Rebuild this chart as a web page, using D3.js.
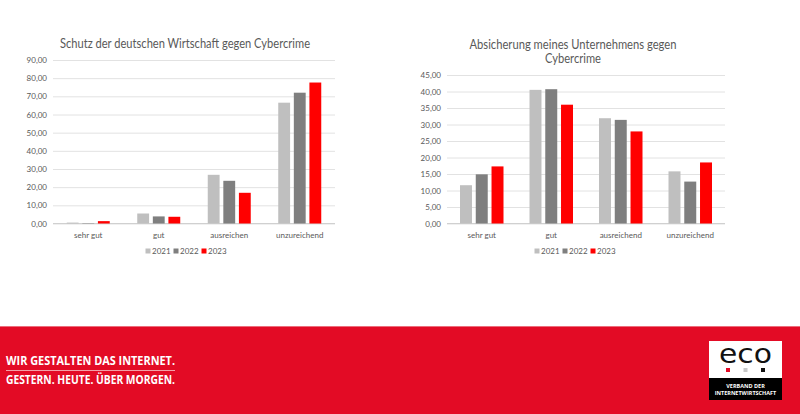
<!DOCTYPE html>
<html><head><meta charset="utf-8">
<script src="https://cdn.jsdelivr.net/npm/d3@7"></script>
<style>html,body{margin:0;padding:0;background:#fff;}svg{display:block;}</style>
</head><body>
<svg id="c" width="800" height="414"></svg>
<script>
const categoriesLeft = ["sehr gut", "gut", "ausreichen", "unzureichend"];
const categoriesRight = ["sehr gut", "gut", "ausreichend", "unzureichend"];
const years = ["2021", "2022", "2023"];
const leftValues2021 = [0.5, 5.5, 26.8, 66.5];
const leftValues2022 = [0.2, 3.9, 23.5, 72.0];
const leftValues2023 = [1.3, 3.7, 16.9, 77.6];
const rightValues2021 = [11.6, 40.5, 31.9, 15.8];
const rightValues2022 = [14.9, 40.7, 31.4, 12.7];
const rightValues2023 = [17.3, 36.0, 27.9, 18.5];
const leftTicks = [0,10,20,30,40,50,60,70,80,90];
const rightTicks = [0,5,10,15,20,25,30,35,40,45];
const leftTitle = ["Schutz der deutschen Wirtschaft gegen Cybercrime"];
const rightTitle = ["Absicherung meines Unternehmens gegen", "Cybercrime"];
const footerLines = ["WIR GESTALTEN DAS INTERNET.", "GESTERN. HEUTE. ÜBER MORGEN."];
const logoLines = ["VERBAND DER", "INTERNETWIRTSCHAFT"];

const colors = {"2021":"#bfbfbf","2022":"#7f7f7f","2023":"#ff0000"};
const svg = d3.select("#c");
const font = "Lato, 'Open Sans', sans-serif";
const fmt = v => d3.format(".2f")(v).replace(".", ",");

function chart(cfg){
  const g = svg.append("g");
  const x = d3.scaleBand().domain(cfg.cats).range([cfg.x0, cfg.x1]).paddingInner(0).paddingOuter(0);
  const y = d3.scaleLinear().domain([0, cfg.max]).range([cfg.y0, cfg.y1]);
  const xs = d3.scaleBand().domain(years).range([0, cfg.groupW]).paddingInner(0.24);
  const ya = d3.axisLeft(y).tickValues(cfg.ticks).tickSize(-(cfg.x1-cfg.x0)).tickFormat(fmt).tickPadding(6);
  const ag = g.append("g").attr("transform",`translate(${cfg.x0},0)`).call(ya);
  ag.select(".domain").remove();
  ag.selectAll(".tick line").attr("stroke","#e2e2e2").attr("stroke-width",1);
  ag.selectAll(".tick text").attr("fill","#595959").style("font-family",font).style("font-size","8px");
  g.append("line").attr("x1",cfg.x0).attr("x2",cfg.x1).attr("y1",y(0)).attr("y2",y(0)).attr("stroke","#d0d0d0");
  const series = years.map((yr,i)=>({yr, vals: cfg.vals[i]}));
  series.forEach(s=>{
    g.selectAll(null).data(s.vals).enter().append("rect")
      .attr("x",(d,i)=> x(cfg.cats[i]) + (x.bandwidth()-cfg.groupW)/2 + xs(s.yr))
      .attr("width", xs.bandwidth())
      .attr("y", d=>y(d)).attr("height", d=>y(0)-y(d))
      .attr("fill", colors[s.yr]);
  });
  g.selectAll(null).data(cfg.cats).enter().append("text")
    .attr("x", d=>x(d)+x.bandwidth()/2).attr("y", cfg.y0+14)
    .attr("text-anchor","middle").attr("fill","#595959")
    .style("font-family",font).style("font-size","8px").text(d=>d);
  g.selectAll(null).data(cfg.title).enter().append("text")
    .attr("x", cfg.tx).attr("y",(d,i)=>cfg.ty + i*14.5)
    .attr("text-anchor","middle").attr("fill","#595959")
    .attr("textLength",(d,i)=>cfg.tw[i]).attr("lengthAdjust","spacingAndGlyphs")
    .style("font-family",font).style("font-size","13px").text(d=>d);
  const lg = g.append("g");
  years.forEach((yr,i)=>{
    const lx = cfg.lx + i*cfg.lstep;
    lg.append("rect").attr("x",lx-2.5).attr("y",cfg.ly-2.5).attr("width",5).attr("height",5).attr("fill",colors[yr]);
    lg.append("text").attr("x",lx+4).attr("y",cfg.ly+3).attr("fill","#595959")
      .style("font-family",font).style("font-size","8px").text(yr);
  });
}

chart({cats:categoriesLeft, vals:[leftValues2021,leftValues2022,leftValues2023], max:90, ticks:leftTicks,
  x0:53, x1:335, y0:223.5, y1:60, groupW:43, title:leftTitle, tw:[250], tx:185, ty:48,
  lx:148, lstep:28, ly:251});
chart({cats:categoriesRight, vals:[rightValues2021,rightValues2022,rightValues2023], max:45, ticks:rightTicks,
  x0:447, x1:725, y0:223.5, y1:75, groupW:43.5, title:rightTitle, tw:[207,56], tx:573, ty:48.5,
  lx:537, lstep:28, ly:251});

svg.append("rect").attr("x",0).attr("y",326).attr("width",800).attr("height",88).attr("fill","#e30b25");
svg.append("line").attr("x1",0).attr("x2",800).attr("y1",326.5).attr("y2",326.5).attr("stroke","#ec6d7b").attr("stroke-width",1);
const ff = "'Liberation Sans Narrow', 'Open Sans', sans-serif";
svg.selectAll(".ft").data(footerLines).enter().append("text")
  .attr("x",6).attr("y",(d,i)=>365 + i*18.5)
  .attr("fill","#fff").style("font-family",ff).style("font-weight","bold").style("font-size","12px")
  .attr("textLength",169).attr("lengthAdjust","spacingAndGlyphs")
  .text(d=>d);
svg.append("line").attr("x1",6).attr("x2",175).attr("y1",370.5).attr("y2",370.5).attr("stroke","#f3a0a8").attr("stroke-width",1);

svg.append("rect").attr("x",709).attr("y",341).attr("width",73).attr("height",37).attr("fill","#fff");
svg.append("rect").attr("x",709).attr("y",378).attr("width",73).attr("height",22).attr("fill","#000");
svg.append("text").attr("x",745.5).attr("y",363).attr("text-anchor","middle").attr("fill","#111")
  .style("font-family","'DejaVu Sans', sans-serif").style("font-size","27px").attr("textLength",53).attr("lengthAdjust","spacingAndGlyphs").text("eco");
[["#e30b25",728],["#c8c8c8",745.5],["#111",763]].forEach(([c,cx])=>{
  svg.append("rect").attr("x",cx-2).attr("y",368).attr("width",4).attr("height",4).attr("fill",c);
});
svg.selectAll(".lg").data(logoLines).enter().append("text")
  .attr("x",745.5).attr("y",(d,i)=>388+i*6.5).attr("text-anchor","middle").attr("fill","#fff")
  .style("font-family",ff).style("font-weight","bold").style("font-size","5.5px").text(d=>d);
</script>
</body></html>
